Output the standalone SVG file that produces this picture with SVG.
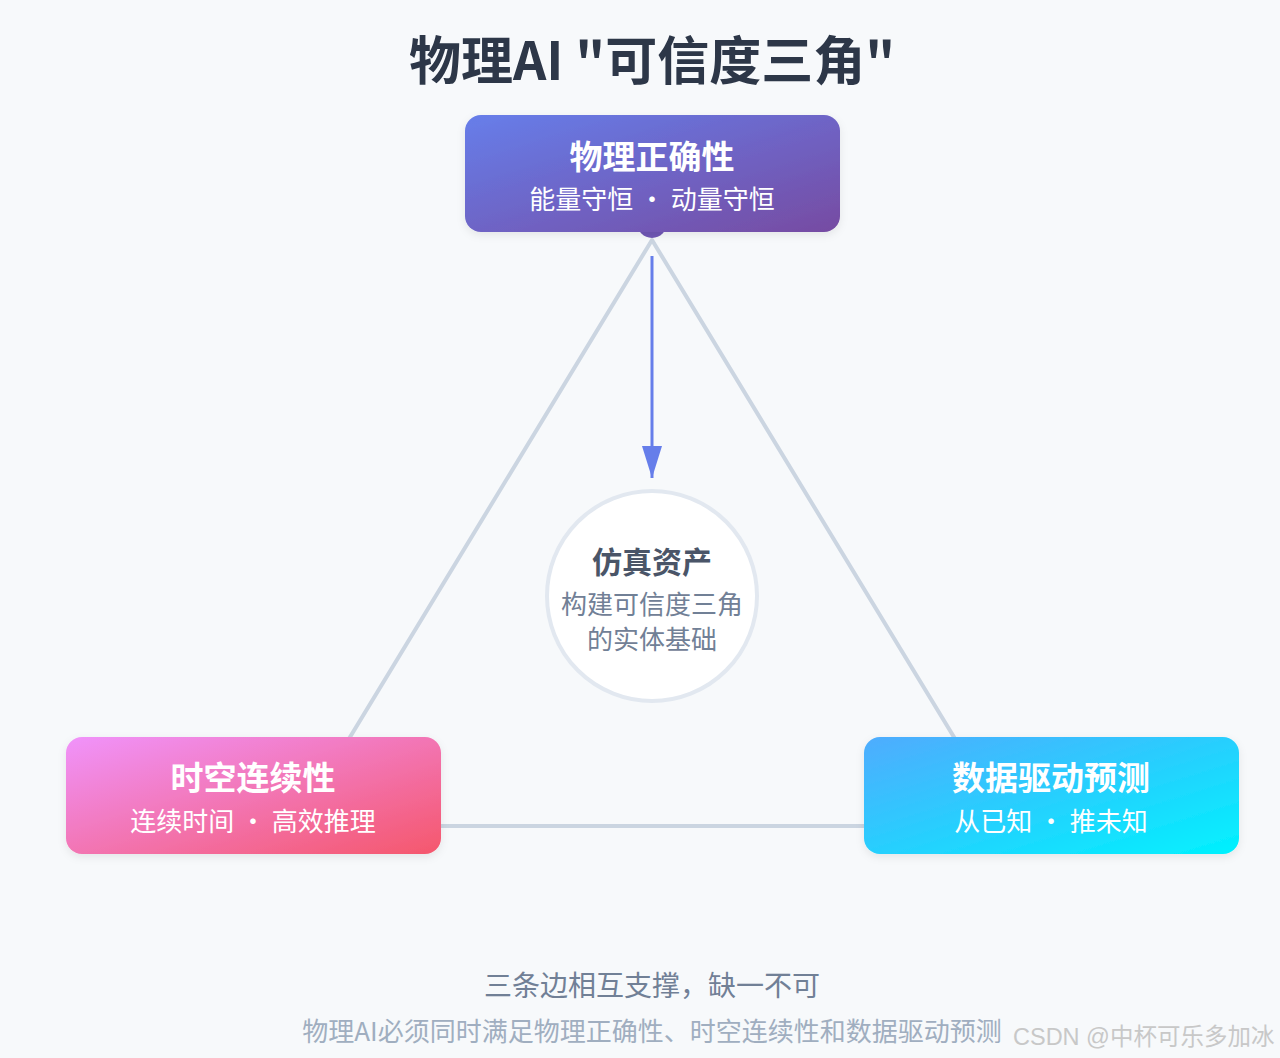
<svg xmlns="http://www.w3.org/2000/svg" width="1280" height="1058" viewBox="0 0 1280 1058">
<defs>
<linearGradient id="gTop" x1="0" y1="0" x2="1" y2="1"><stop offset="0" stop-color="#667eea"/><stop offset="1" stop-color="#764ba2"/></linearGradient>
<linearGradient id="gLeft" x1="0" y1="0" x2="1" y2="1"><stop offset="0" stop-color="#f093fb"/><stop offset="1" stop-color="#f5576c"/></linearGradient>
<linearGradient id="gRight" x1="0" y1="0" x2="1" y2="1"><stop offset="0" stop-color="#4facfe"/><stop offset="1" stop-color="#00f2fe"/></linearGradient>
<marker id="arrow" markerWidth="32" markerHeight="20" refX="32" refY="10" orient="auto" markerUnits="userSpaceOnUse" viewBox="0 0 32 20">
<path d="M0,0 L32,10 L0,20 Z" fill="#667eea"/>
</marker>
<filter id="sh" x="-10%" y="-10%" width="120%" height="130%"><feDropShadow dx="0" dy="3" stdDeviation="4" flood-color="#000" flood-opacity="0.08"/></filter>
</defs>
<style>
.t{font-family:"Noto Sans CJK SC","Noto Sans",sans-serif;text-anchor:middle}
.nt{font-size:33px;font-weight:700;fill:#ffffff}
.ns{font-size:26px;fill:#ffffff}
</style>
<rect width="1280" height="1058" fill="#f7f9fb"/>
<text class="t" x="652" y="80" font-size="52" font-weight="700" fill="#2d3748">物理AI "可信度三角"</text>
<g id="connectors">
<path d="M652,240 L296,826 L1008,826 Z" fill="none" stroke="#cbd5e1" stroke-width="4" stroke-linejoin="round"/>
<line x1="652" y1="256" x2="652" y2="478" stroke="#667eea" stroke-width="3" marker-end="url(#arrow)"/>
</g>
<g id="node-top">
<circle cx="652" cy="223" r="15" fill="#7057b5"/>
<rect x="465" y="115" width="375" height="117" rx="16" fill="url(#gTop)" filter="url(#sh)"/>
<text class="t nt" x="652" y="169">物理正确性</text>
<text class="t ns" x="652" y="209">能量守恒 ・ 动量守恒</text>
</g>
<g id="node-left">
<rect x="66" y="737" width="375" height="117" rx="16" fill="url(#gLeft)" filter="url(#sh)"/>
<text class="t nt" x="253" y="790">时空连续性</text>
<text class="t ns" x="253" y="831">连续时间 ・ 高效推理</text>
</g>
<g id="node-right">
<rect x="864" y="737" width="375" height="117" rx="16" fill="url(#gRight)" filter="url(#sh)"/>
<text class="t nt" x="1051" y="790">数据驱动预测</text>
<text class="t ns" x="1051" y="831">从已知 ・ 推未知</text>
</g>
<g id="node-center">
<circle cx="652" cy="596" r="105" fill="#ffffff" stroke="#e2e8f0" stroke-width="4"/>
<text class="t" x="652" y="573" font-size="30" font-weight="700" fill="#4a5568">仿真资产</text>
<text class="t" x="652" y="614" font-size="26" fill="#718096">构建可信度三角</text>
<text class="t" x="652" y="649" font-size="26" fill="#718096">的实体基础</text>
</g>
<text class="t" x="652" y="996" font-size="28" fill="#718096">三条边相互支撑，缺一不可</text>
<text class="t" x="652" y="1041" font-size="26" fill="#a0aec0">物理AI必须同时满足物理正确性、时空连续性和数据驱动预测</text>
<text x="1013" y="1045" font-family="Liberation Sans, Noto Sans CJK SC, sans-serif" font-size="23.5" fill="#c8c8c8">CSDN @中杯可乐多加冰</text>
</svg>
